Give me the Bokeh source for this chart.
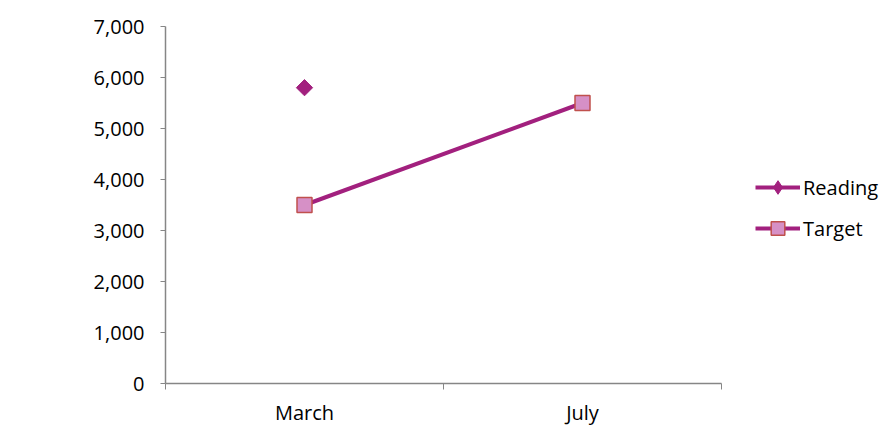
import math
from bokeh.plotting import figure
from bokeh.models import (ColumnDataSource, FixedTicker, NumeralTickFormatter,
                          Range1d, Legend, LegendItem)
from bokeh.embed import file_html
from bokeh.resources import INLINE

categories = ["March", "July"]
reading = [5800, float("nan")]
target = [3500, 5500]
y_ticks = [0, 1000, 2000, 3000, 4000, 5000, 6000, 7000]

FONT = "Open Sans"
FS = "20px"
LINE_C = "#a2207e"
SQ_FILL = "#d690c6"
SQ_LINE = "#c0504d"
AXIS_C = "#868686"

W, H = 884, 428
LEFT, TOP, BOTTOM = 165, 26, 44
AXIS_PX = 556  # pixel length of the category axis

n = len(categories)
xs = [i + 0.5 for i in range(n)]
src = ColumnDataSource(dict(x=xs, reading=reading, target=target))

x_end = n * (W - LEFT) / AXIS_PX
p = figure(width=W, height=H, output_backend="svg", toolbar_location=None,
           x_range=Range1d(0, x_end), y_range=Range1d(0, 7000),
           min_border_left=LEFT, min_border_right=0, min_border_top=TOP,
           min_border_bottom=BOTTOM)
p.outline_line_color = None
p.xgrid.visible = False
p.ygrid.visible = False

r_line = p.line("x", "reading", source=src, line_color=LINE_C, line_width=4)
# narrow diamond underneath (used for the legend), covered by the rotated square
r_leg = p.scatter("x", "reading", source=src, marker="diamond", size=12,
                  fill_color=LINE_C, line_color=LINE_C)
r_mark = p.scatter("x", "reading", source=src, marker="square", angle=math.pi / 4,
                   size=11.5, fill_color=LINE_C, line_color=LINE_C)
t_line = p.line("x", "target", source=src, line_color=LINE_C, line_width=4)
t_mark = p.scatter("x", "target", source=src, marker="square", size=15,
                   fill_color=SQ_FILL, line_color=SQ_LINE, line_width=1.5)

xa = p.xaxis[0]
xa.bounds = (0, n)
xa.ticker = FixedTicker(ticks=xs, minor_ticks=list(range(n + 1)))
xa.major_label_overrides = {x: c for x, c in zip(xs, categories)}
xa.major_tick_out = 0
xa.major_tick_in = 0
xa.minor_tick_out = 6
xa.minor_tick_in = 0
xa.minor_tick_line_color = AXIS_C
xa.axis_line_color = AXIS_C
xa.axis_line_width = 1.5
xa.major_label_standoff = 9
xa.major_label_text_font = FONT
xa.major_label_text_font_size = FS
xa.major_label_text_color = "#000000"

ya = p.yaxis[0]
ya.ticker = FixedTicker(ticks=y_ticks, minor_ticks=[])
ya.formatter = NumeralTickFormatter(format="0,0")
ya.major_tick_out = 5
ya.major_tick_in = 0
ya.major_tick_line_color = AXIS_C
ya.axis_line_color = AXIS_C
ya.axis_line_width = 1.5
ya.major_label_standoff = 16
ya.major_label_text_font = FONT
ya.major_label_text_font_size = FS
ya.major_label_text_color = "#000000"

legend = Legend(items=[LegendItem(label="Reading", renderers=[r_line, r_leg]),
                       LegendItem(label="Target", renderers=[t_line, t_mark])],
                location=(590, 138), orientation="vertical",
                glyph_width=45, glyph_height=34, label_height=20,
                label_standoff=3, spacing=7, padding=0, margin=0,
                border_line_alpha=0, background_fill_alpha=0,
                label_text_font=FONT, label_text_font_size=FS,
                label_text_color="#000000")
p.add_layout(legend, "center")

open("out.html", "w").write(file_html(p, INLINE))
